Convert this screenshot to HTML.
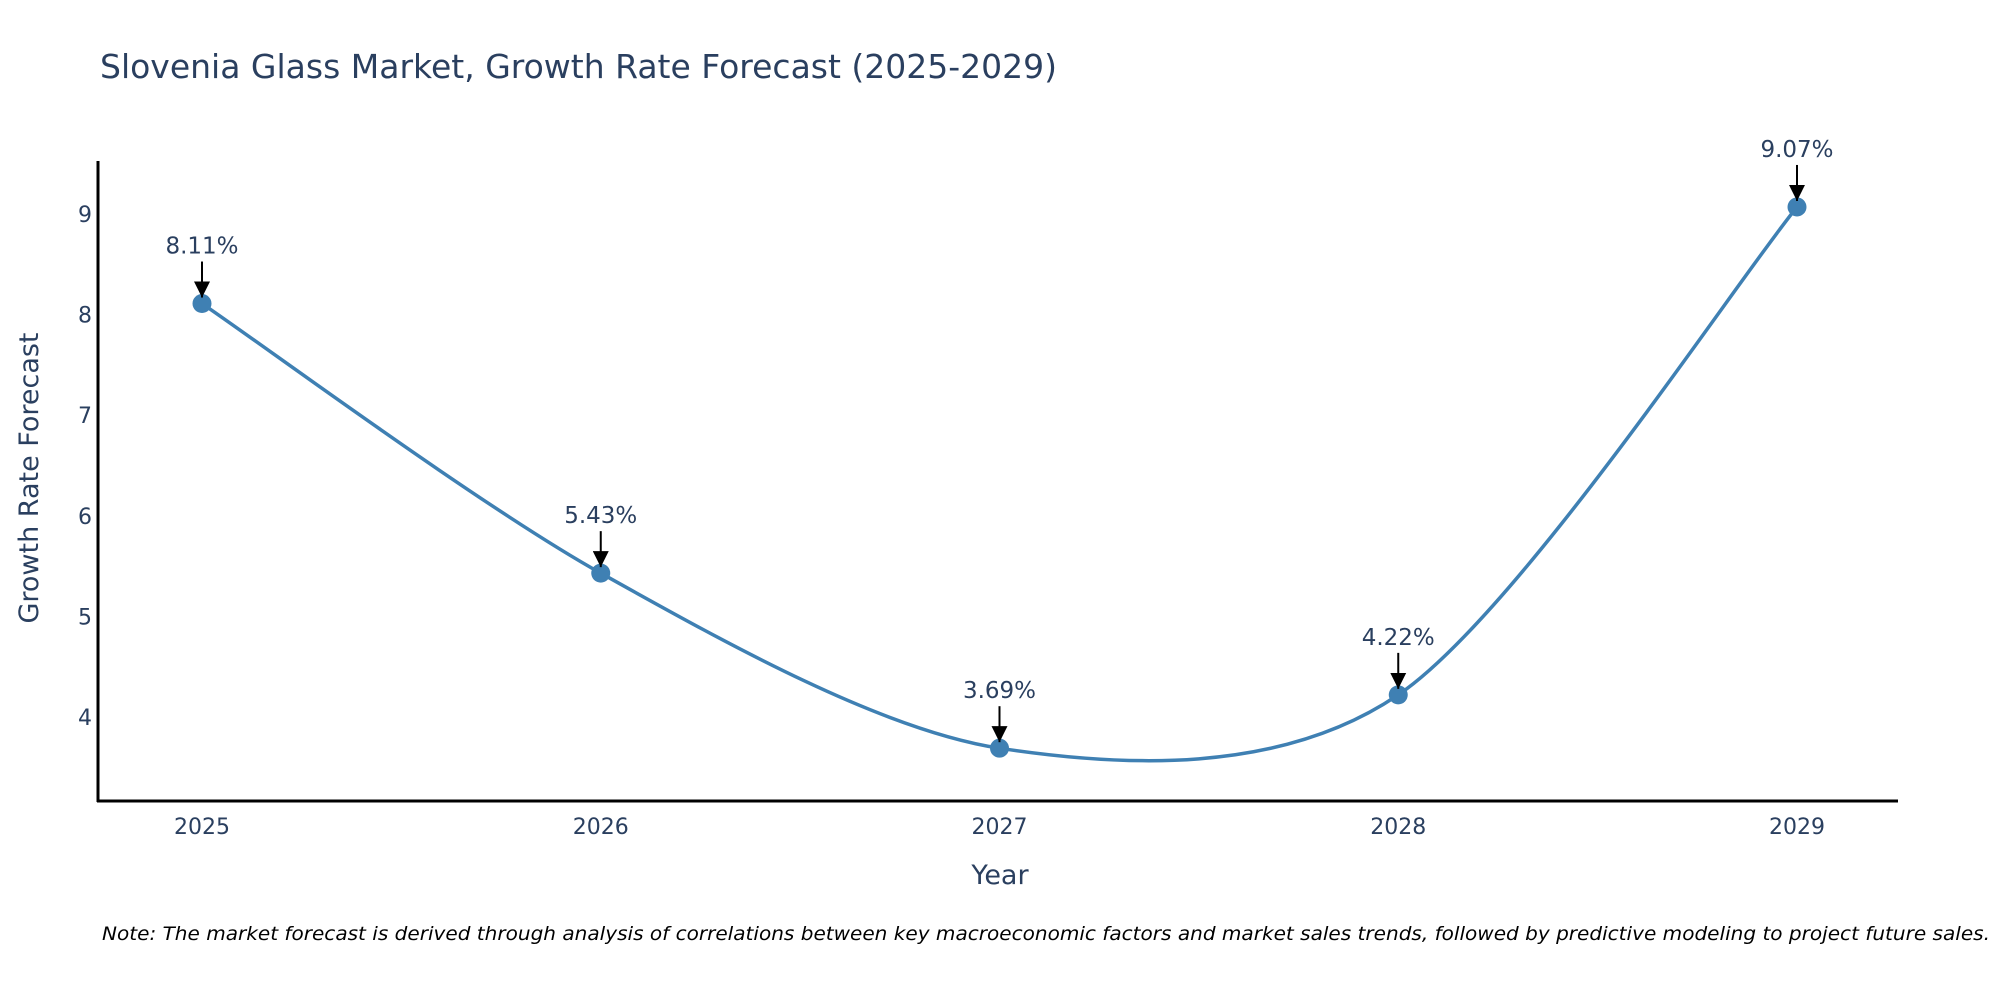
<!DOCTYPE html>
<html><head><meta charset="utf-8"><style>
body{margin:0;background:#fff;}
svg text{font-family:"DejaVu Sans","Liberation Sans",sans-serif;fill:#2a3f5f;}
</style></head><body>
<svg id="chart" width="2000" height="1000" xmlns="http://www.w3.org/2000/svg">
<defs><marker id="ah" viewBox="0 0 10 10" refX="10" refY="5" markerUnits="userSpaceOnUse" markerWidth="16" markerHeight="16" orient="auto"><path d="M0,0 L10,5 L0,10 z" fill="#000"/></marker></defs>
<text x="100" y="78" font-size="33">Slovenia Glass Market, Growth Rate Forecast (2025-2029)</text>
<g id="plot"></g>
<text transform="translate(38,478) rotate(-90)" text-anchor="middle" font-size="27">Growth Rate Forecast</text>
<text x="1000" y="884" text-anchor="middle" font-size="27">Year</text>
<text x="102" y="940" font-size="19" font-style="italic" fill="#000" style="fill:#000" textLength="1888" lengthAdjust="spacingAndGlyphs">Note: The market forecast is derived through analysis of correlations between key macroeconomic factors and market sales trends, followed by predictive modeling to project future sales.</text>
</svg>
<script>
const years = [2025, 2026, 2027, 2028, 2029];
const values = [8.11, 5.43, 3.69, 4.22, 9.07];
const labels = ["8.11%", "5.43%", "3.69%", "4.22%", "9.07%"];
const yTicks = [4, 5, 6, 7, 8, 9];
const NS = "http://www.w3.org/2000/svg";
const g = document.getElementById('plot');
const xs = yr => 202 + (yr - 2025) * 398.75;
const ys = v => 214 + (9 - v) * 100.6;
function mk(tag, attrs, parent){const e=document.createElementNS(NS,tag);for(const k in attrs)e.setAttribute(k,attrs[k]);(parent||g).appendChild(e);return e;}
let ya = mk('line',{x1:98,y1:161,x2:98,y2:802,stroke:'#000','stroke-width':3});


let xa = mk('line',{x1:97,y1:801,x2:1898,y2:801,stroke:'#000','stroke-width':3});


yTicks.forEach(t=>{
  const e = mk('text',{x:92,y:ys(t)+8,'text-anchor':'end','font-size':22});
  e.textContent = t;
  
  
});
years.forEach(yr=>{
  const e = mk('text',{x:xs(yr),y:834,'text-anchor':'middle','font-size':22});
  e.textContent = yr;
  
  
});
const P = years.map((y,i)=>[xs(y), ys(values[i])]);
let d = `M${P[0][0]},${P[0][1]}`;
const k = 0.15;
for(let i=0;i<P.length-1;i++){
  const p0=P[Math.max(0,i-1)], p1=P[i], p2=P[i+1], p3=P[Math.min(P.length-1,i+2)];
  const c1=[p1[0]+(p2[0]-p0[0])*k, p1[1]+(p2[1]-p0[1])*k];
  const c2=[p2[0]-(p3[0]-p1[0])*k, p2[1]-(p3[1]-p1[1])*k];
  d += ` C${c1[0]},${c1[1]} ${c2[0]},${c2[1]} ${p2[0]},${p2[1]}`;
}
const line = mk('path',{d:d,fill:'none',stroke:'#3f80b3','stroke-width':3.5});


P.forEach((p,i)=>{
  const c = mk('circle',{cx:p[0],cy:p[1],r:9.5,fill:'#3f80b3'});
  
  
  const a = mk('line',{x1:p[0],y1:p[1]-42,x2:p[0],y2:p[1]-6,stroke:'#000','stroke-width':2,'marker-end':'url(#ah)'});
  
  
  const t = mk('text',{x:p[0],y:p[1]-50,'text-anchor':'middle','font-size':23});
  t.textContent = labels[i];
  
  
});
</script>
</body></html>
